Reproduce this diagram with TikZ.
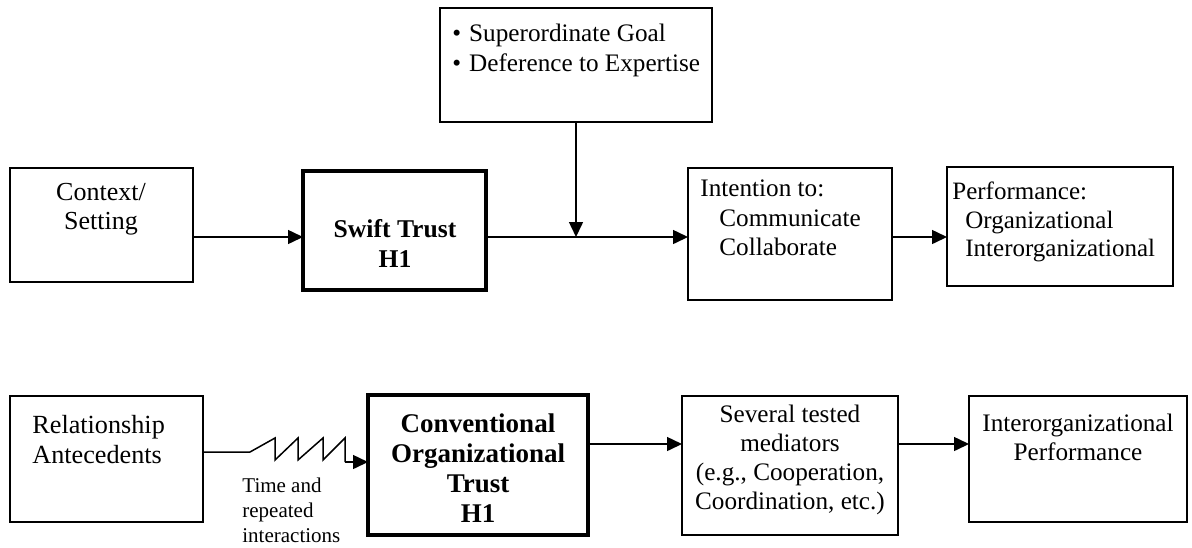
\documentclass[tikz,border=0pt]{standalone}
\usepackage{fontspec}
\setmainfont{Liberation Serif}
\usetikzlibrary{arrows.meta}
\begin{document}
\begin{tikzpicture}[x=0.5pt,y=-0.5pt]
\tikzset{
  box/.style={draw, line width=0.75pt, inner sep=0pt, outer sep=0pt},
  thickbox/.style={box, line width=1.75pt},
  txt/.style={inner sep=0pt, font=\fontsize{13}{14.6}\selectfont},
  btxt/.style={inner sep=0pt, align=center, font=\fontsize{13.5}{15}\selectfont\bfseries},
  small/.style={inner sep=0pt, align=left, font=\fontsize{10.5}{12.5}\selectfont},
  arr/.style={line width=0.75pt, -{Triangle[length=7.5pt,width=7pt]}},
  ln/.style={line width=0.75pt}
}
\useasboundingbox (0,0) rectangle (1192,547);
% boxes
\node[box, minimum width=91.5pt, minimum height=57pt] (ctx) at (101.5,225) {};
\node[thickbox, minimum width=91.5pt, minimum height=59.5pt] (swift) at (394.5,230.5) {};
\node[box, minimum width=136pt, minimum height=57pt] (goal) at (576,65) {};
\node[box, minimum width=102pt, minimum height=66pt] (intent) at (790,234) {};
\node[box, minimum width=113pt, minimum height=59.5pt] (perf) at (1060,226.5) {};
\node[box, minimum width=96.5pt, minimum height=63pt] (rel) at (106.5,459) {};
\node[thickbox, minimum width=110pt, minimum height=70pt] (conv) at (478,465) {};
\node[box, minimum width=108pt, minimum height=69.5pt] (sev) at (790,465.5) {};
\node[box, minimum width=109pt, minimum height=63pt] (iop) at (1078,459) {};
% texts
\node[txt, align=center] (ctxt) at (101,209) {Context/\\Setting};
\node[btxt, font=\fontsize{12.8}{15}\selectfont\bfseries] (swiftt) at (395,243) {Swift Trust\\H1};
\node[txt, align=left, anchor=west, font=\fontsize{12.6}{15}\selectfont] (goalt) at (452,50) {\textbullet\hspace{4pt}Superordinate Goal\\\textbullet\hspace{4pt}Deference to Expertise};
\node[txt, align=left, anchor=west, font=\fontsize{12.6}{14.75}\selectfont] (intentt) at (700,218) {Intention to:\\\hspace*{9.5pt}Communicate\\\hspace*{9.5pt}Collaborate};
\node[txt, align=left, anchor=west, font=\fontsize{12.5}{14.25}\selectfont] (perft) at (952,222) {Performance:\\\hspace*{6.5pt}Organizational\\\hspace*{6.5pt}Interorganizational};
\node[txt, align=left, anchor=west, font=\fontsize{13.1}{15}\selectfont] (relt) at (32,440) {Relationship\\Antecedents};
\node[btxt] (convt) at (478,468) {Conventional\\Organizational\\Trust\\H1};
\node[txt, align=center, font=\fontsize{12.6}{14.5}\selectfont] (sevt) at (790,460) {Several tested\\mediators\\(e.g., Cooperation,\\Coordination, etc.)};
\node[txt, align=center, font=\fontsize{12.6}{14.5}\selectfont] (iopt) at (1078,437.5) {Interorganizational\\Performance};
\node[small, anchor=west] (timet) at (242,510) {Time and\\repeated\\interactions};
% connectors top row
\coordinate (j) at (576,237);
\draw[arr] (ctx.east |- j) -- (swift.west |- j);
\draw[arr] (swift.east |- j) -- (intent.west |- j);
\draw[arr] (goal.south) -- (j);
\draw[arr] (intent.east |- j) -- (perf.west |- j);
% connectors bottom row
\coordinate (k) at (0,444);
\draw[ln] ([yshift=3.5pt]rel.east) -- ++(47,0) -- ++(25,-14) -- ++(0,22) -- ++(23,-22) -- ++(0,22)
  -- ++(25,-22) -- ++(0,22) -- ++(22,-22) -- ++(0,24) coordinate (zz);
\draw[arr] (zz) -- (zz -| conv.west);
\draw[arr] (conv.east |- k) -- (sev.west |- k);
\draw[arr] (sev.east |- k) -- (iop.west |- k);
\end{tikzpicture}
\end{document}
